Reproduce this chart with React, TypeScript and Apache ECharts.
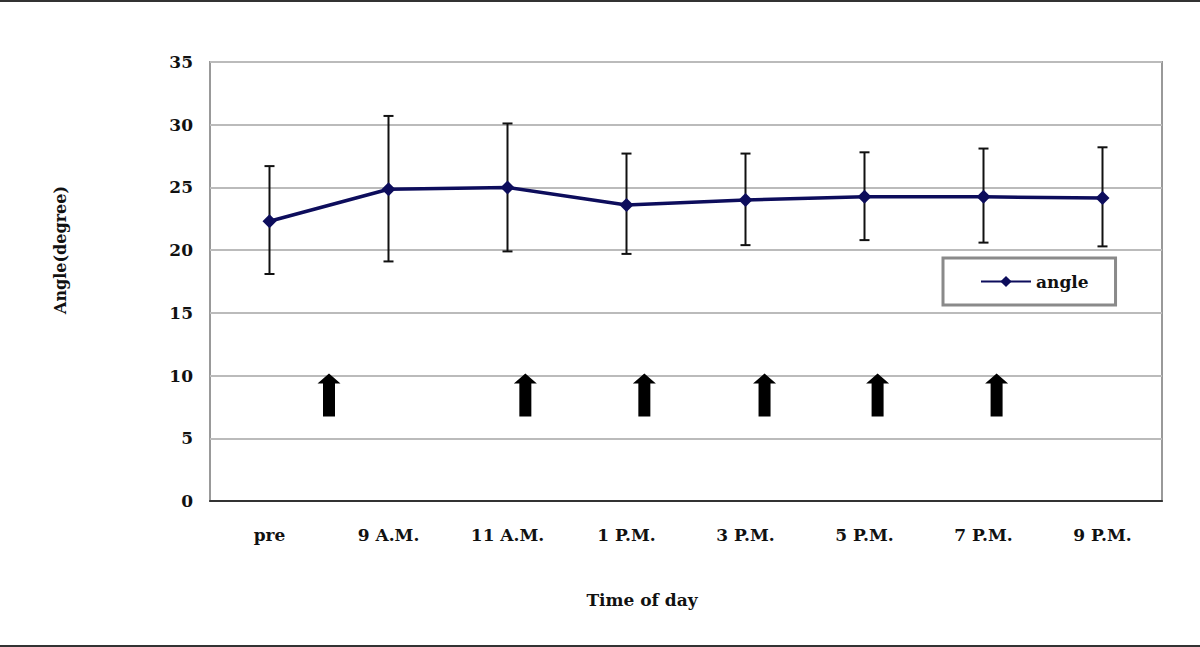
import React, { useEffect, useRef } from "react";
import * as echarts from "echarts";

const categories = ["pre", "9 A.M.", "11 A.M.", "1 P.M.", "3 P.M.", "5 P.M.", "7 P.M.", "9 P.M."];
const angleMean = [22.3, 24.85, 25.0, 23.6, 24.0, 24.25, 24.25, 24.15];
const angleUpper = [26.7, 30.7, 30.1, 27.7, 27.7, 27.8, 28.1, 28.2];
const angleLower = [18.1, 19.1, 19.9, 19.7, 20.4, 20.8, 20.6, 20.3];
const arrowPositions = [0.5, 2.15, 3.15, 4.16, 5.11, 6.11];
const arrowLevel = 8.45;
const yTicks = { min: 0, max: 35, interval: 5 };
const xTitle = "Time of day";
const yTitle = "Angle(degree)";

const SERIF = "'DejaVu Serif', 'Liberation Serif', serif";

export default function App() {
  const ref = useRef<HTMLDivElement>(null);
  useEffect(() => {
    if (!ref.current) return;
    const chart = echarts.init(ref.current, null, { renderer: "svg" });
    const errData = categories.map((_, i) => [i, angleLower[i], angleUpper[i]]);
    chart.setOption({
      animation: false,
      backgroundColor: "#ffffff",
      grid: { left: 210, top: 62, right: 38, bottom: 146, show: true, borderColor: "#999", borderWidth: 2 },
      legend: {
        data: ["angle"],
        left: 943,
        top: 258,
        padding: [15, 27, 15, 37],
        borderColor: "#8a8a8a",
        borderWidth: 3,
        itemWidth: 50,
        itemHeight: 14,
        itemGap: 0,
        textStyle: { fontFamily: SERIF, fontWeight: "bold", fontSize: 17, color: "#111" },
      },
      xAxis: [
        {
          type: "category",
          data: categories,
          boundaryGap: true,
          axisLine: { lineStyle: { color: "#333", width: 2 } },
          axisTick: { inside: true, length: 5, lineStyle: { color: "#555" } },
          axisLabel: { margin: 25, fontFamily: SERIF, fontWeight: "bold", fontSize: 17, color: "#111" },
          splitLine: { show: false },
        },
        { type: "value", min: -0.5, max: 7.5, show: false },
      ],
      yAxis: {
        type: "value",
        min: yTicks.min,
        max: yTicks.max,
        interval: yTicks.interval,
        axisLine: { show: false },
        axisTick: { show: false },
        axisLabel: { margin: 17, fontFamily: SERIF, fontWeight: "bold", fontSize: 17, color: "#111" },
        splitLine: { lineStyle: { color: "#bbb", width: 2 } },
      },
      graphic: [
        { type: "rect", shape: { x: 0, y: 0, width: 1200, height: 2 }, style: { fill: "#333" } },
        { type: "rect", shape: { x: 0, y: 645, width: 1200, height: 2 }, style: { fill: "#333" } },
        {
          type: "text",
          x: 642,
          y: 600,
          style: {
            text: xTitle,
            fontFamily: SERIF,
            fontWeight: "bold",
            fontSize: 17,
            fill: "#111",
            align: "center",
            verticalAlign: "middle",
          },
        },
        {
          type: "text",
          x: 60,
          y: 250,
          rotation: Math.PI / 2,
          style: {
            text: yTitle,
            fontFamily: SERIF,
            fontWeight: "bold",
            fontSize: 16,
            fill: "#111",
            align: "center",
            verticalAlign: "middle",
          },
        },
      ],
      series: [
        {
          type: "custom",
          name: "err",
          data: errData,
          z: 3,
          renderItem: (params: any, api: any) => {
            const x = api.value(0);
            const lo = api.coord([x, api.value(1)]);
            const hi = api.coord([x, api.value(2)]);
            const cap = 5;
            const style = { stroke: "#111", lineWidth: 2 };
            return {
              type: "group",
              children: [
                { type: "line", shape: { x1: lo[0], y1: lo[1], x2: hi[0], y2: hi[1] }, style },
                { type: "line", shape: { x1: hi[0] - cap, y1: hi[1], x2: hi[0] + cap, y2: hi[1] }, style },
                { type: "line", shape: { x1: lo[0] - cap, y1: lo[1], x2: lo[0] + cap, y2: lo[1] }, style },
              ],
            };
          },
        },
        {
          type: "line",
          name: "angle",
          data: angleMean,
          z: 5,
          symbol: "diamond",
          symbolSize: 14,
          lineStyle: { color: "#0d0d5c", width: 3.5 },
          itemStyle: { color: "#0d0d5c" },
        },
        {
          type: "scatter",
          name: "arrows",
          xAxisIndex: 1,
          data: arrowPositions.map((p) => [p, arrowLevel]),
          symbol: "path://M11.5,0 L23,10 L17.5,10 L17.5,43 L5.5,43 L5.5,10 L0,10 Z",
          symbolSize: [23, 43],
          itemStyle: { color: "#000", opacity: 1 },
          silent: true,
        },
      ],
    });
    return () => chart.dispose();
  }, []);
  return <div ref={ref} style={{ width: 1200, height: 647, position: "absolute", left: 0, top: 0 }} />;
}
